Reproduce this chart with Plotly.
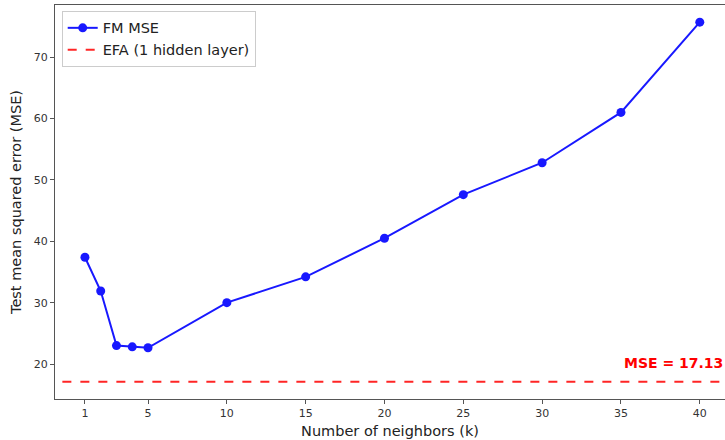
import plotly.graph_objects as go

k_values = [1, 2, 3, 4, 5, 10, 15, 20, 25, 30, 35, 40]
fm_mse = [37.4, 31.9, 23.0, 22.8, 22.65, 30.0, 34.2, 40.5, 47.6, 52.8, 61.0, 75.7]
efa_mse = 17.13
x_ticks = [1, 5, 10, 15, 20, 25, 30, 35, 40]
y_ticks = [20, 30, 40, 50, 60, 70]

fig = go.Figure()
fig.add_trace(go.Scatter(
    x=k_values, y=fm_mse, mode="lines+markers", name="FM MSE",
    line=dict(color="blue", width=2), marker=dict(color="blue", size=9),
    opacity=0.9,
))
fig.add_trace(go.Scatter(
    x=[-5, 50], y=[efa_mse, efa_mse], mode="lines", name="EFA (1 hidden layer)",
    line=dict(color="red", width=2, dash="dash"), opacity=0.85,
))
fig.add_annotation(
    x=1, xref="paper", xanchor="right", y=efa_mse, yref="y", yanchor="bottom",
    yshift=9, text="<b>MSE = 17.13</b>", showarrow=False,
    font=dict(color="red", size=14, family="DejaVu Sans"),
)

axis_common = dict(
    showgrid=False, zeroline=False, showline=True, linecolor="#555", linewidth=1,
    ticks="outside", ticklen=4, tickcolor="#555", automargin=False,
    tickfont=dict(size=11, color="#333", family="DejaVu Sans"),
)
fig.update_xaxes(range=[-0.9, 41.6], tickvals=x_ticks, mirror=True,
                 title=dict(text="Number of neighbors (k)", font=dict(size=14.5, color="#222"), standoff=6),
                 **axis_common)
fig.update_yaxes(range=[14.3, 78.5], tickvals=y_ticks, mirror=False,
                 title=dict(text="Test mean squared error (MSE)", font=dict(size=14.5, color="#222"), standoff=8),
                 **axis_common)

fig.update_layout(
    width=725, height=440,
    margin=dict(l=55, r=0, t=5, b=41, autoexpand=False),
    plot_bgcolor="white", paper_bgcolor="white",
    font=dict(family="DejaVu Sans", color="#222"),
    legend=dict(x=0.01, y=0.985, xanchor="left", yanchor="top",
                bgcolor="rgba(255,255,255,0.8)", bordercolor="#ccc", borderwidth=1,
                font=dict(size=14.5, color="#222"), itemwidth=30),
    showlegend=True,
)
fig.write_html("out.html", config={"displayModeBar": False},
               post_script="document.body.style.margin='0';")
